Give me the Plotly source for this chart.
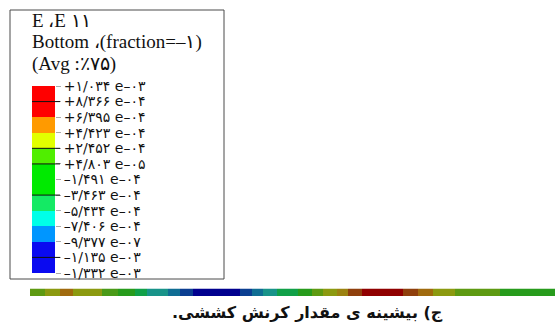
import plotly.graph_objects as go

W, H = 555, 328

# ---- legend data ----
legend_title = ["E ،E ۱۱", "Bottom ،(fraction=–۱)", "(Avg :٪۷۵)"]
# contour levels, top to bottom as printed
level_labels = [
    "+۱/۰۳۴ e–۰۳", "+۸/۳۶۶ e–۰۴", "+۶/۳۹۵ e–۰۴", "+۴/۴۲۳ e–۰۴",
    "+۲/۴۵۲ e–۰۴", "+۴/۸۰۳ e–۰۵", "–۱/۴۹۱ e–۰۴", "–۳/۴۶۳ e–۰۴",
    "–۵/۴۳۴ e–۰۴", "–۷/۴۰۶ e–۰۴", "–۹/۳۷۷ e–۰۷", "–۱/۱۳۵ e–۰۳",
    "–۱/۳۳۲ e–۰۳",
]
# swatch colours, bottom (lowest) to top (highest)
legend_colors = ["#0a0af0", "#0a0af0", "#0096ff", "#00ffe8", "#14ea64", "#00ea00",
                 "#00ea00", "#50ee00", "#e2ff00", "#ff9a00", "#ff0000", "#ff0000"]
legend_dark_lines = [11, 8, 7, 5, 1]  # boundaries drawn with dark lines

# ---- strain band along the path ----
path_edges = [0, 15, 30, 43, 72, 88, 105, 117, 138, 150, 163, 210, 222, 233, 247,
              268, 282, 293, 307, 318, 332, 373, 388, 403, 425, 470, 525]
path_levels = [7, 8, 10, 8, 6, 5, 4, 3, 2, 1, 0, 1, 2, 3, 4, 5, 7, 8, 9, 11, 12,
               11, 10, 8, 7, 5]
band_colors = ["#00008f", "#0b3e91", "#0f6d93", "#189389", "#10a048", "#279b1c",
               "#4a9a18", "#5e9a12", "#8c9a10", "#9c8210", "#a06a0e", "#8f3f0c",
               "#900000"]

caption = "ج) بیشینه ی مقدار کرنش کششی."


def discrete_scale(colors):
    n = len(colors)
    cs = []
    for i, c in enumerate(colors):
        cs.append([i / n, c])
        cs.append([(i + 1) / n, c])
    return cs


fig = go.Figure()

fig.add_trace(go.Heatmap(
    x=path_edges, y=[0, 1], z=[path_levels],
    colorscale=discrete_scale(band_colors), zmin=-0.5, zmax=len(band_colors) - 0.5,
    showscale=False, hoverinfo="skip", xaxis="x", yaxis="y",
))

fig.add_trace(go.Heatmap(
    x=[0, 1], y=list(range(len(legend_colors) + 1)),
    z=[[i] for i in range(len(legend_colors))],
    colorscale=discrete_scale(legend_colors), zmin=-0.5, zmax=len(legend_colors) - 0.5,
    showscale=False, hoverinfo="skip", xaxis="x2", yaxis="y2",
))

shapes = [dict(type="rect", xref="paper", yref="paper",
               x0=10 / W, x1=224 / W, y0=(H - 279) / H, y1=(H - 10) / H,
               line=dict(color="#4a4a4a", width=1), fillcolor="rgba(0,0,0,0)",
               layer="below")]
for b in legend_dark_lines:
    shapes.append(dict(type="line", xref="paper", yref="y2",
                       x0=32 / W, x1=60 / W, y0=b, y1=b,
                       line=dict(color="#111111", width=1)))

annotations = []
title_y = [21, 42, 63.5]
for t, yy in zip(legend_title, title_y):
    annotations.append(dict(text=t, xref="paper", yref="paper", x=31 / W, y=(H - yy) / H,
                            xanchor="left", yanchor="middle", showarrow=False,
                            borderpad=0,
                            font=dict(family="Liberation Serif", size=19, color="#111111")))
annotations.append(dict(text=caption + "\u200f", xref="paper", yref="paper",
                        x=307 / W, y=(H - 312) / H, xanchor="center", yanchor="middle",
                        showarrow=False,
                        font=dict(family="DejaVu Sans", size=16, color="#111111",
                                  weight="bold")))

fig.update_layout(
    template="none",
    width=W, height=H, margin=dict(l=0, r=0, t=0, b=0, pad=0), autosize=False,
    paper_bgcolor="white", plot_bgcolor="white",
    showlegend=False,
    xaxis=dict(domain=[30 / W, 1], range=[path_edges[0], path_edges[-1]], visible=False,
               fixedrange=True, automargin=False),
    yaxis=dict(domain=[(H - 296) / H, (H - 288.5) / H], range=[0, 1], visible=False,
               fixedrange=True, automargin=False),
    xaxis2=dict(domain=[32 / W, 55 / W], range=[0, 1], visible=False, anchor="y2",
                fixedrange=True, automargin=False),
    yaxis2=dict(domain=[(H - 273) / H, (H - 86) / H], range=[0, 12], anchor="x2",
                side="right", showgrid=False, zeroline=False, showline=False,
                automargin=False,
                tickmode="array", tickvals=list(range(13)),
                ticktext=level_labels[::-1], ticks="outside", ticklen=5,
                tickcolor="#aaaaaa", tickwidth=1,
                tickfont=dict(family="DejaVu Sans", size=14, color="#111111"),
                fixedrange=True),
    shapes=shapes, annotations=annotations,
)

fig.write_html(
    "out.html",
    config={"displayModeBar": False},
    post_script="document.body.style.margin='0';document.body.style.overflow='hidden';",
)
